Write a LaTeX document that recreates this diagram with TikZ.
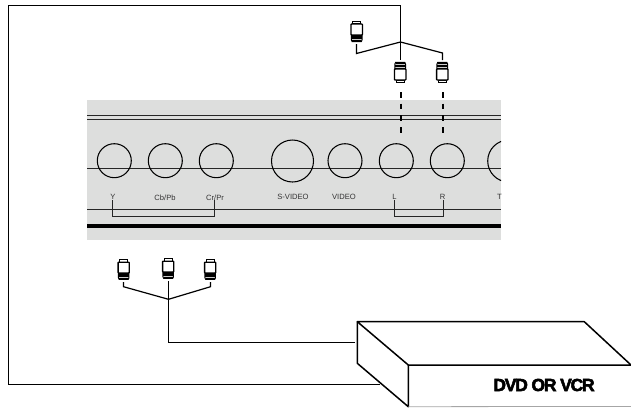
\documentclass[tikz,border=0pt]{standalone}
\usepackage{fontspec}
\setmainfont{Liberation Sans}
\newfontfamily\boxfont[LetterSpace=-7,FakeBold=3]{Liberation Sans Bold}
\tikzset{
  wire/.style={draw=black,line width=1.2pt,line join=miter},
  rail/.style={draw=black!85,line width=1.1pt},
  jack/.style={circle,draw=black,line width=1.05pt,inner sep=0pt,minimum size=#1},
  lbl/.style={font=\fontsize{7.6}{8}\selectfont,text=black!80,inner sep=0pt},
  casing/.style={draw=black,line width=1.5pt,line join=round},
  plug/.pic={
    \draw[line width=1.1pt,fill=white] (-4,-11.5) rectangle (4,-9);
    \draw[line width=1.3pt,fill=white,rounded corners=0.6pt] (-5.7,-9) rectangle (5.7,2);
    \fill[black] (-5.4,2) rectangle (5.4,3.6);
    \fill[black!20] (-5.4,3.6) rectangle (5.4,4.4);
    \fill[black] (-5.4,4.4) rectangle (5.4,6);
    \fill[black!20] (-5.4,6) rectangle (5.4,6.7);
    \fill[black] (-4.6,6.7) rectangle (4.6,8.6);
    \draw[line width=1pt] (-5.4,2) -- (-5.4,6.8) -- (-4.6,8.6) -- (4.6,8.6) -- (5.4,6.8) -- (5.4,2);
  }
}
\definecolor{panel}{HTML}{DDDEDD}
\begin{document}
\begin{tikzpicture}[x=1pt,y=-1pt]
\useasboundingbox (0,0) rectangle (631,407);
% front panel
\fill[panel] (87,100) rectangle (501,240);
\draw[rail] (87,115.5) -- (501,115.5);
\draw[rail] (87,119.5) -- (501,119.5);
\draw[rail] (87,168.5) -- (501,168.5);
\draw[rail,line width=0.9pt] (87,209) -- (501,209);
\fill[black] (87,224.3) rectangle (501,228.3);
\node[jack=34pt] (jy) at (114.3,160.7) {};
\node[jack=34pt] (jcb) at (165.3,160.7) {};
\node[jack=34pt] (jcr) at (216.3,160.7) {};
\node[jack=42pt] (jsv) at (292.5,161) {};
\node[jack=34pt] (jv) at (345,160.7) {};
\node[jack=34pt] (jl) at (396.3,160.7) {};
\node[jack=34pt] (jr) at (447.3,160.7) {};
\begin{scope}
\clip (87,100) rectangle (501,240);
\node[jack=42pt] (jtv) at (508.7,161) {};
\node[lbl] (ltv) at (502,197.3) {TV};
\end{scope}
\node[lbl] (ly) at (113,197.3) {Y};
\node[lbl] (lcb) at (165,197.3) {Cb/Pb};
\node[lbl] (lcr) at (215,197.3) {Cr/Pr};
\node[lbl] (lsv) at (293,197.3) {S-VIDEO};
\node[lbl] (lv) at (344,197.3) {VIDEO};
\node[lbl] (ll) at (394.5,197.3) {L};
\node[lbl] (lr) at (442.5,197.3) {R};
\draw[rail,line width=1pt] (ly.south -| 112.5,0) -- (112.5,216) -- (214.5,216) -- (lcr.south -| 214.5,0);
\draw[rail,line width=1pt] (ll.south -| 394.5,0) -- (394.5,216) -- (443.5,216) -- (lr.south -| 443.5,0);
% named points
\coordinate (topj) at (400.5,42);
\coordinate (botj) at (168.5,299.3);
\coordinate (pa) at (356.5,44);
\coordinate (pb) at (400.5,60);
\coordinate (pc) at (442.5,60);
\coordinate (pd) at (123.5,282);
\coordinate (pe) at (168.5,281);
\coordinate (pf) at (210.5,282);
% DVD box
\coordinate (ba) at (357.3,321.7);
\coordinate (bb) at (584.3,321.7);
\coordinate (bc) at (631,365);
\coordinate (bd) at (408.3,365);
\coordinate (be) at (357.3,363.3);
\coordinate (bf) at (408.3,406.7);
\coordinate (bw1) at (355,342.5);
\coordinate (bw2) at (380,384.5);
% cables
\draw[wire] (bw2) -- (8.5,384.5) -- (8.5,5.5) -- (400.5,5.5) -- (topj) -- (pb);
\draw[wire] (pa) -- (356.5,53.5) -- (topj) -- (442.5,53) -- (pc);
\draw[wire] (bw1) -- (168.5,342.5) -- (botj) -- (pe);
\draw[wire] (pd) -- (123.5,286.7) -- (botj) -- (210.5,286.7) -- (pf);
\draw[black,line width=2pt,dash pattern=on 5.5pt off 6.2pt] (400.5,92) -- (400.5,138);
\draw[black,line width=2pt,dash pattern=on 5.5pt off 6.2pt] (442.5,92) -- (442.5,138);
% plugs
\path (356.7,33) pic {plug};
\path (400.2,71) pic[yscale=-1] {plug};
\path (442.3,71) pic[yscale=-1] {plug};
\path (123.7,271) pic[scale=0.98] {plug};
\path (168.2,270) pic[scale=0.98] {plug};
\path (210.2,271) pic[scale=0.98] {plug};
% box
\draw[casing] (ba) -- (bb) -- (bc) -- (bd) -- cycle;
\draw[casing] (ba) -- (be) -- (bf) -- (bd);
\draw[black!35,line width=0.8pt] (bf) -- (631,406.4);
\node[inner sep=0pt,font=\fontsize{17.5}{18}\boxfont] (dvd) at (544,385) {DVD OR VCR};
\end{tikzpicture}
\end{document}
